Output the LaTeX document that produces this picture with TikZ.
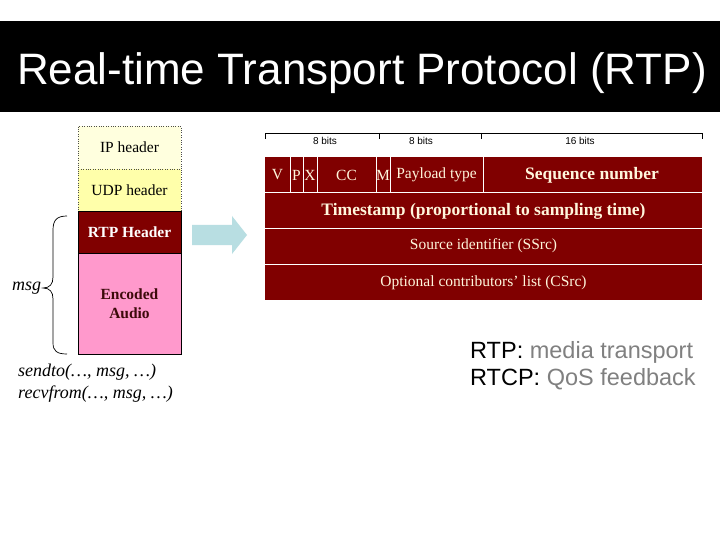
\documentclass[tikz,border=0pt]{standalone}
\usepackage{fontspec}
\setmainfont{Liberation Serif}
\newfontfamily\arialf{Liberation Sans}
\definecolor{rtpred}{RGB}{128,0,0}
\definecolor{ipfill}{RGB}{255,255,222}
\definecolor{udpfill}{RGB}{255,255,170}
\definecolor{audiofill}{RGB}{255,153,204}
\definecolor{audiotext}{RGB}{60,10,10}
\definecolor{cream}{RGB}{255,246,220}
\definecolor{arrowcyan}{RGB}{184,222,226}
\definecolor{midgray}{RGB}{128,128,128}
\tikzset{
  layerbox/.style={rectangle, minimum width=103pt, inner sep=0pt, font=\fontsize{15.5}{19}\selectfont, align=center},
  fieldtxt/.style={inner sep=0pt, text=cream, font=\fontsize{15.5}{18}\selectfont},
  fieldbold/.style={inner sep=0pt, text=cream, font=\bfseries\fontsize{17.5}{20}\selectfont},
  bitlabel/.style={inner sep=0pt, font=\arialf\fontsize{10}{12}\selectfont},
  calltxt/.style={inner sep=0pt, anchor=west, font=\itshape\fontsize{18}{20}\selectfont},
  sep/.style={draw=white, line width=0.9pt},
}
\begin{document}
\begin{tikzpicture}[x=1pt,y=-1pt]
\useasboundingbox (0,0) rectangle (720,540);
\fill[white] (0,0) rectangle (720,540);
\fill[black] (0,21) rectangle (720,112);
\node[anchor=base west, text=white, inner sep=0pt, font=\arialf\fontsize{44}{44}\selectfont] (title) at (17,85) {Real-time Transport Protocol (RTP)};

% left stack
\node[layerbox, fill=ipfill, draw=black!70, dotted, minimum height=43pt] (ip) at (129.5,147.5) {IP header};
\node[layerbox, fill=udpfill, draw=black!70, dotted, minimum height=42pt] (udp) at (129.5,190) {UDP header};
\node[layerbox, fill=rtpred, draw=black, text=white, font=\bfseries\fontsize{15.5}{19}\selectfont, minimum height=42pt] (rtph) at (129.5,232) {RTP Header};
\node[layerbox, fill=audiofill, draw=black, text=audiotext, font=\bfseries\fontsize{15.5}{19}\selectfont, minimum height=101pt] (audio) at (129.5,303.5) {Encoded\\Audio};

% brace and msg
\draw[line width=0.7pt] (67,216) .. controls (57,216) and (53,220) .. (53,230) -- (53,277) .. controls (53,284) and (50,288) .. (43,288) .. controls (50,288) and (53,292) .. (53,299) -- (53,343) .. controls (53,351) and (57,354) .. (67,354);
\node[calltxt] (msg) at (12,288) {msg};
\node[calltxt] (send) at (18,372) {sendto(…, msg, …)};
\node[calltxt] (recv) at (18,394) {recvfrom(…, msg, …)};

% arrow
\fill[arrowcyan] (192,225) -- (232,225) -- (232,216) -- (247,235) -- (232,254) -- (232,245) -- (192,245) -- cycle;

% ruler
\draw[line width=0.7pt] (265,139) -- (265,133) -- (702,133) -- (702,139);
\draw[line width=0.7pt] (379,133) -- (379,139);
\draw[line width=0.7pt] (481,133) -- (481,139);
\node[bitlabel] (b1) at (325,141) {8 bits};
\node[bitlabel] (b2) at (421,141) {8 bits};
\node[bitlabel] (b3) at (580,141) {16 bits};

% header table
\fill[rtpred] (265,157) rectangle (702,300);
\draw[sep] (265,192) -- (702,192);
\draw[sep] (265,228) -- (702,228);
\draw[sep] (265,264) -- (702,264);
\foreach \xx in {290,303,317,376,390,483} \draw[sep] (\xx,157) -- (\xx,192);
\node[fieldtxt] (v) at (277.5,175) {V};
\node[fieldtxt] (p) at (296.5,175) {P};
\node[fieldtxt] (x) at (310,175) {X};
\node[fieldtxt] (cc) at (346.5,175) {CC};
\node[fieldtxt] (m) at (383,175) {M};
\node[fieldtxt] (pt) at (436.5,175) {Payload type};
\node[fieldbold] (seq) at (592,175) {Sequence number};
\node[fieldbold] (ts) at (483.5,211) {Timestamp (proportional to sampling time)};
\node[fieldtxt] (ssrc) at (483.5,246) {Source identifier (SSrc)};
\node[fieldtxt] (csrc) at (483.5,283) {Optional contributors’ list (CSrc)};

% notes
\node[anchor=base west, inner sep=0pt, font=\arialf\fontsize{23.5}{28}\selectfont] (n1) at (470,358) {RTP: \textcolor{midgray}{media transport}};
\node[anchor=base west, inner sep=0pt, font=\arialf\fontsize{23.5}{28}\selectfont] (n2) at (470,385) {RTCP: \textcolor{midgray}{QoS feedback}};
\end{tikzpicture}
\end{document}
